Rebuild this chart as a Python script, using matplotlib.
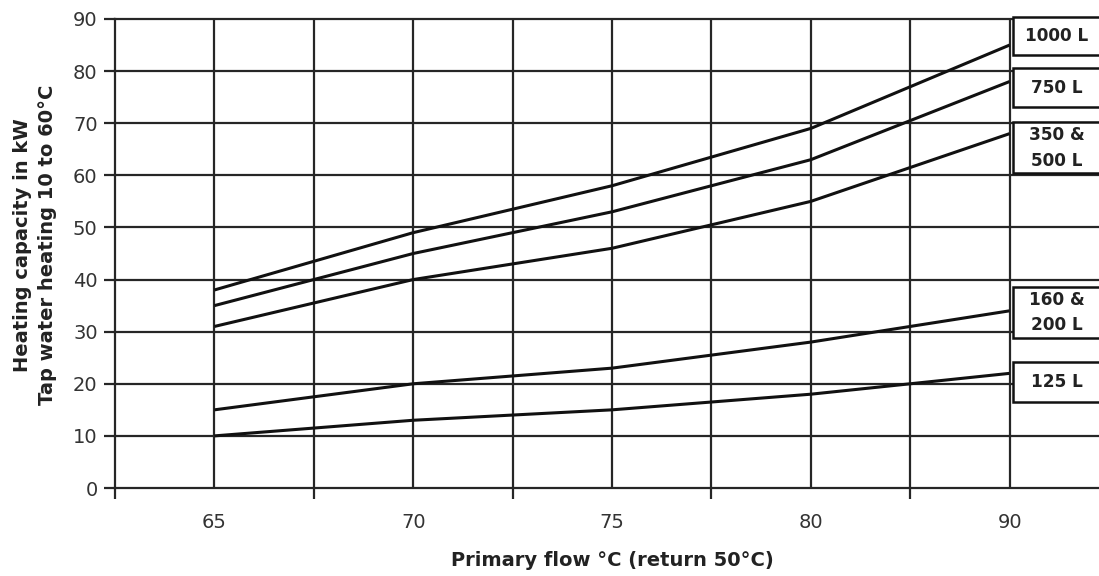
import matplotlib
matplotlib.use("Agg")
import matplotlib.pyplot as plt
from matplotlib.patches import Rectangle
import numpy as np

plt.rcParams['font.family'] = ['DejaVu Sans']

# ---- data ----
categories = ["65", "70", "75", "80", "90"]
series_names = ["1000 L", "750 L", "350 &\n500 L", "160 &\n200 L", "125 L"]
s_1000 = [38, 49, 58, 69, 85]
s_750 = [35, 45, 53, 63, 78]
s_350_500 = [31, 40, 46, 55, 68]
s_160_200 = [15, 20, 23, 28, 34]
s_125 = [10, 13, 15, 18, 22]
series = [s_1000, s_750, s_350_500, s_160_200, s_125]
y_ticks = [0, 10, 20, 30, 40, 50, 60, 70, 80, 90]

# ---- layout (label boxes: bottom, top in data units) ----
box_spans = [(83.1, 90.4), (73.1, 80.6), (60.4, 70.2), (28.8, 38.6), (16.5, 24.2)]

W, H = 1099, 576
fig = plt.figure(figsize=(W / 100, H / 100), dpi=100)
left, right, top, bottom = 115, 1109, 19, 488
ax = fig.add_axes([left / W, 1 - bottom / H, (right - left) / W, (bottom - top) / H])

n = len(categories)
x = np.arange(n)
ax.set_xlim(-0.5, n - 0.5)
ax.set_ylim(0, 90)

gcol = "#262626"
glw = 1.6
# grid
for yv in y_ticks:
    ax.axhline(yv, color=gcol, lw=glw, zorder=1, clip_on=False)
for xv in list(x) + list(np.arange(n - 1) + 0.5):
    ax.axvline(xv, color=gcol, lw=glw, zorder=1)

for s in series:
    ax.plot(x, s, color="#111111", lw=2.2, zorder=3, solid_capstyle="butt")

# label boxes
for name, (b0, b1) in zip(series_names, box_spans):
    r = Rectangle((4.015, b0), 0.6, b1 - b0, facecolor="white", edgecolor="#111111",
                  lw=1.8, zorder=4, clip_on=False)
    ax.add_patch(r)
    ax.text(4.237, (b0 + b1) / 2, name, ha="center", va="center", fontsize=12.2,
            fontweight="bold", color="#222222", zorder=5, clip_on=False,
            linespacing=1.55)

# spines
for sp in ["top", "right", "bottom"]:
    ax.spines[sp].set_visible(False)
ax.spines["left"].set_color(gcol)
ax.spines["left"].set_linewidth(glw)
ax.spines["left"].set_zorder(2)

ax.set_yticks(y_ticks)
ax.set_yticklabels([str(v) for v in y_ticks], fontsize=14, color="#333333")
ax.tick_params(axis="y", length=8, width=glw, color=gcol, pad=4.5)

ax.set_xticks(x)
ax.set_xticklabels(categories, fontsize=14, color="#333333")
ax.tick_params(axis="x", which="major", length=0, pad=18)
ax.set_xticks(np.arange(n + 1) - 0.5, minor=True)
ax.tick_params(axis="x", which="minor", length=8, width=glw, color=gcol, direction="out")

fig.text(612 / W, 1 - 560 / H, "Primary flow °C (return 50°C)", ha="center", va="center",
         fontsize=14, fontweight="bold", color="#222222")
fig.text(35 / W, 1 - 245 / H, "Heating capacity in kW\nTap water heating 10 to 60°C",
         rotation=90, ha="center", va="center", fontsize=14, fontweight="bold",
         color="#222222", linespacing=1.45)

fig.savefig("out.png", dpi=100)
